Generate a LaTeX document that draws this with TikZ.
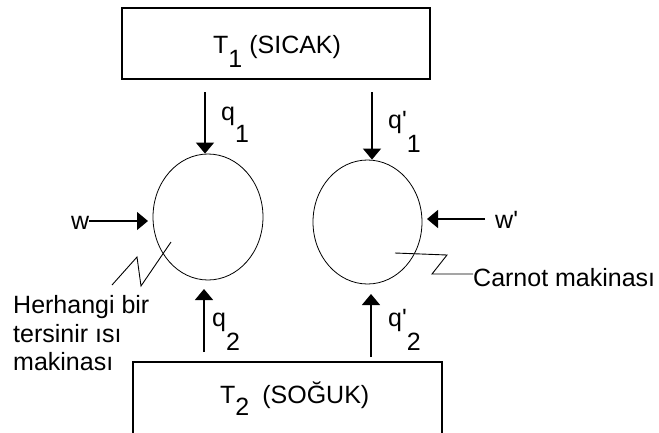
\documentclass[tikz,border=0pt]{standalone}
\usepackage{fontspec}
\setmainfont{Liberation Sans}
\usetikzlibrary{arrows.meta,shapes.geometric}
\tikzset{
  reservoir/.style={draw, line width=1.2pt, inner sep=0pt, rectangle},
  engine/.style={draw, line width=0.8pt, ellipse, inner sep=0pt},
  flow/.style={line width=1.3pt, -{Triangle[width=18pt,length=11pt]}},
  zig/.style={line width=0.9pt},
  lbl/.style={inner sep=0pt, anchor=base west, font=\fontsize{25}{29}\selectfont}
}
\newcommand\lowr[2]{\raisebox{-#1pt}{#2}}
\begin{document}
\begin{tikzpicture}[x=1pt,y=-1pt]
\useasboundingbox (0,0) rectangle (659,432);
\fill[white] (0,0) rectangle (659,432);
\clip (0,0) rectangle (659,432);
% reservoirs
\node[reservoir, minimum width=308pt, minimum height=71pt] (hot) at (276,43.5) {};
\node[reservoir, minimum width=309pt, minimum height=84pt] (cold) at (287.5,404) {};
\node[lbl] (hotlbl) at (213,53) {T\lowr{14}{1} (SICAK)};
\node[lbl] (coldlbl) at (220,403) {T\lowr{12}{2}\hspace{6pt} (SOĞUK)};
% engines
\node[engine, minimum width=110pt, minimum height=126pt] (E1) at (208,217) {};
\node[engine, minimum width=109pt, minimum height=124pt] (E2) at (367.5,222) {};
% heat arrows
\coordinate (q1s) at (205,92);
\coordinate (qp1s) at (372,92);
\coordinate (q2s) at (204,352);
\coordinate (q2e) at (204,289);
\coordinate (qp2s) at (371,357);
\coordinate (qp2e) at (371,294);
\draw[flow] (q1s) -- (q1s |- E1.north);
\draw[flow] (qp1s) -- (qp1s |- E2.north);
\draw[flow] (q2s) -- (q2e);
\draw[flow] (qp2s) -- (qp2e);
\node[lbl] (q1) at (221,120) {q\lowr{22}{1}};
\node[lbl] (qp1) at (388,128) {q\textquotesingle\lowr{24}{1}};
\node[lbl] (q2) at (212,326) {q\lowr{24}{2}};
\node[lbl] (qp2) at (388,326) {q\textquotesingle\lowr{24}{2}};
% work arrows
\node[lbl] (w) at (71,229) {w};
\node[lbl] (wp) at (495,228) {w\textquotesingle};
\coordinate (wtip) at (148,221);
\coordinate (wptip) at (427,219);
\draw[flow] (w.east |- wtip) -- (wtip);
\draw[flow] (485,219) coordinate (wps) -- (wptip);
% callouts
\node[lbl] (any1) at (13,313) {Herhangi bir};
\node[lbl] (any2) at (13,342) {tersinir ısı};
\node[lbl] (any3) at (13,370) {makinası};
\node[lbl] (carnot) at (473,286) {Carnot makinası};
\draw[zig] (171,242) -- (141,286) -- (137,257) -- (112,285);
\draw[zig] (395,253) -- (447,255) -- (432,274) -- (carnot.west |- 0,274);
\end{tikzpicture}
\end{document}
